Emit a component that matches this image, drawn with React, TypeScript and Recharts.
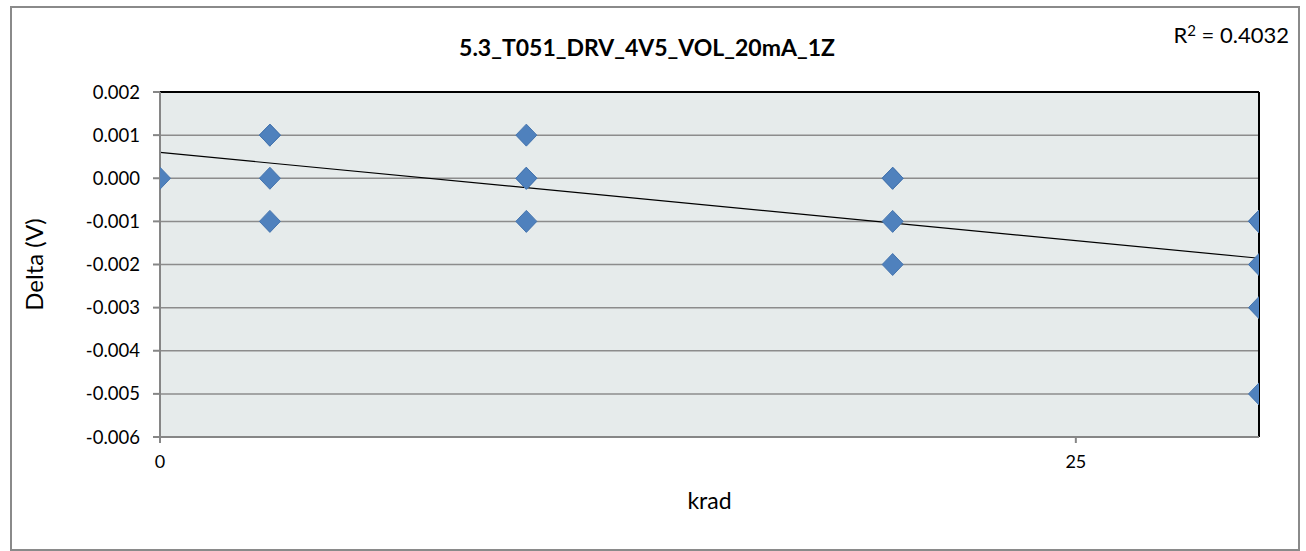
import React from 'react';
import {
  ScatterChart, Scatter, XAxis, YAxis, CartesianGrid, ReferenceLine, Label
} from 'recharts';

// dose levels (krad) and measured deltas (V); repeated values sit on top of each other
const doseLevels = [0, 3, 10, 20, 30];
const deltas: number[][] = [
  [0],
  [0.001, 0.001, 0, -0.001],
  [0.001, 0, 0, -0.001],
  [0, 0, -0.001, -0.002],
  [-0.001, -0.001, -0.001, -0.001, -0.002, -0.003, -0.005],
];
const yTicks = [-0.006, -0.005, -0.004, -0.003, -0.002, -0.001, 0, 0.001, 0.002];
const xTicks = [0, 25];
const title = '5.3_T051_DRV_4V5_VOL_20mA_1Z';
const r2Text = 'R² = 0.4032';

const points = doseLevels.flatMap((x, i) => deltas[i].map((y) => ({ x, y })));

// least squares trend line
const n = points.length;
const mx = points.reduce((s, p) => s + p.x, 0) / n;
const my = points.reduce((s, p) => s + p.y, 0) / n;
const sxy = points.reduce((s, p) => s + (p.x - mx) * (p.y - my), 0);
const sxx = points.reduce((s, p) => s + (p.x - mx) ** 2, 0);
const slope = sxy / sxx;
const intercept = my - slope * mx;
const xMin = 0;
const xMax = 30;

const font = 'Lato, "Open Sans", sans-serif';

const Diamond = (props: any) => {
  const { cx, cy } = props;
  if (cx == null || cy == null) return null;
  const w = 10.5;
  const h = 11;
  return (
    <path
      d={`M${cx},${cy - h} L${cx + w},${cy} L${cx},${cy + h} L${cx - w},${cy} Z`}
      fill="#4F81BD"
      stroke="#4675AE"
      strokeWidth={1}
    />
  );
};

export default function App() {
  return (
    <div style={{ position: 'absolute', left: 0, top: 0, width: 1306, height: 551, background: '#fff', fontFamily: font }}>
      <div style={{ position: 'absolute', left: 10, top: 6, width: 1286, height: 541, border: '2px solid #8a8a8a' }} />
      <div style={{ position: 'absolute', left: 0, width: 1306, top: 32, textAlign: 'center', fontSize: 23, fontWeight: 700, color: '#000', lineHeight: '30px' }}>
        <span style={{ position: 'relative', left: -6 }}>{title}</span>
      </div>
      <div style={{ position: 'absolute', right: 17, top: 15, fontSize: 22, color: '#000', lineHeight: '30px' }}>
        R<span style={{ fontSize: 15, verticalAlign: 7 }}>2</span> = 0.4032
      </div>
      <div style={{ position: 'absolute', left: 0, top: 0 }}>
        <ScatterChart width={1306} height={551} margin={{ top: 92, right: 47, bottom: 54, left: 90 }}>
          <CartesianGrid horizontal vertical={false} fill="#E6EBEB" stroke="#8c8c8c" strokeWidth={1.5} />
          <XAxis
            type="number"
            dataKey="x"
            domain={[xMin, xMax]}
            ticks={xTicks}
            allowDataOverflow
            height={60}
            stroke="#868686"
            strokeWidth={2}
            tickSize={6}
            tick={{ fill: '#000', fontSize: 18, fontFamily: font }}
            tickMargin={12}
          >
            <Label value="krad" position="insideBottom" offset={-12} style={{ fill: '#000', fontSize: 23, fontFamily: font }} />
          </XAxis>
          <YAxis
            type="number"
            dataKey="y"
            domain={[-0.006, 0.002]}
            ticks={yTicks}
            interval={0}
            allowDataOverflow
            width={70}
            stroke="#868686"
            strokeWidth={2}
            tickSize={7}
            tick={{ fill: '#000', fontSize: 18.5, fontFamily: font }}
            tickMargin={13}
            tickFormatter={(v: number) => v.toFixed(3)}
          >
            <Label value="Delta (V)" angle={-90} position="insideLeft" offset={-56} style={{ fill: '#000', fontSize: 24, fontFamily: font, textAnchor: 'middle' }} />
          </YAxis>
          <ReferenceLine y={0.002} stroke="#000" strokeWidth={2} />
          <ReferenceLine x={xMax} stroke="#000" strokeWidth={2} />
          <ReferenceLine
            segment={[{ x: xMin, y: intercept + slope * xMin }, { x: xMax, y: intercept + slope * xMax }]}
            stroke="#000"
            strokeWidth={1.2}
            ifOverflow="visible"
          />
          <Scatter data={points} shape={<Diamond />} isAnimationActive={false} />
        </ScatterChart>
      </div>
    </div>
  );
}
